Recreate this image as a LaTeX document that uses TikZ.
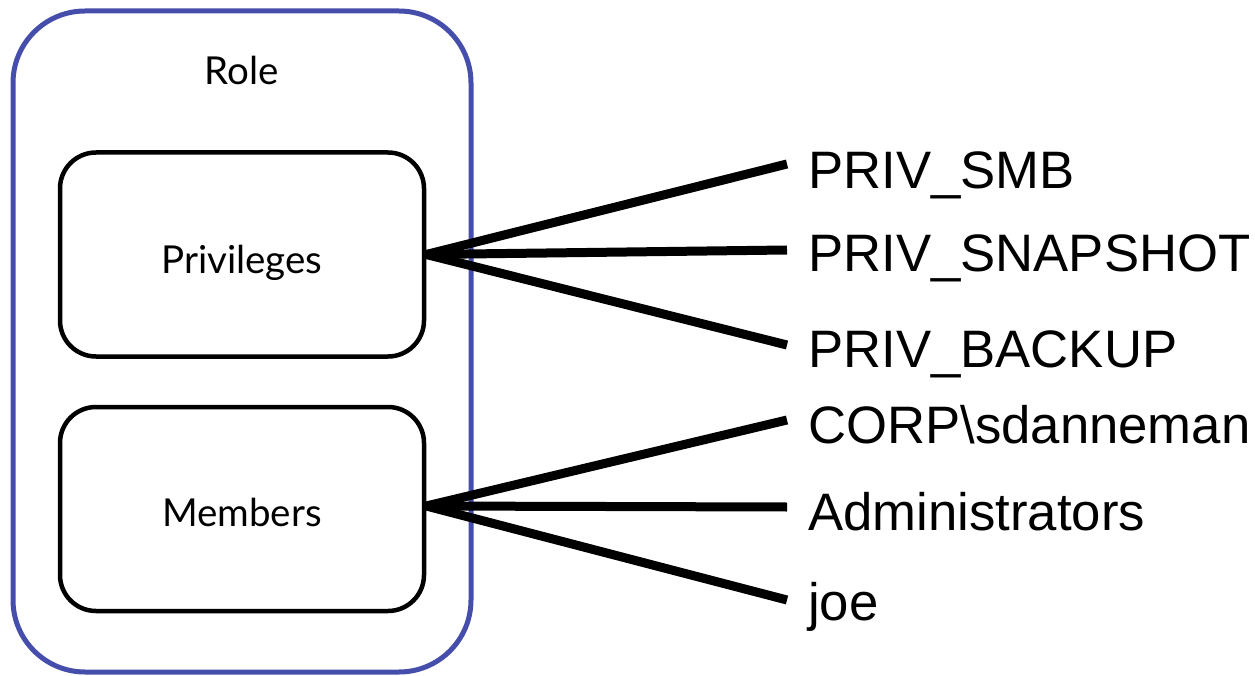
\documentclass[tikz,border=0pt]{standalone}
\usepackage{fontspec}
\setmainfont{Liberation Sans}
\newfontfamily\gillfont{Lato}
\definecolor{roleblue}{RGB}{70,78,172}
\begin{document}
\begin{tikzpicture}[x=1pt,y=-1pt,
  rolebox/.style={draw=roleblue,line width=5pt,rounded corners=72pt,minimum width=458pt,minimum height=661pt,inner sep=0pt},
  partbox/.style={draw=black,line width=4.5pt,rounded corners=36pt,minimum width=364pt,minimum height=204pt,inner sep=0pt},
  leftlabel/.style={font=\gillfont\fontsize{38.5}{44}\selectfont,inner sep=0pt},
  item/.style={font=\fontsize{52.7}{60}\selectfont,anchor=base west,inner sep=0pt},
  link/.style={line width=9pt}]
\useasboundingbox (0,0) rectangle (1255,676);
\node[rolebox] (role) at (242,341.5) {};
\node[partbox] (priv) at (242,254.5) {};
\node[partbox] (memb) at (242,509) {};
\node[leftlabel,anchor=base] (rolelbl) at (242,85) {Role};
\node[leftlabel,anchor=base] (privlbl) at (242,273) {Privileges};
\node[leftlabel,anchor=base] (memblbl) at (242,526) {Members};
\node[item] (smb) at (808,189) {PRIV\_SMB};
\node[item] (snap) at (808,272) {PRIV\_SNAPSHOT};
\node[item] (backup) at (808,367) {PRIV\_BACKUP};
\node[item] (corp) at (808,443) {CORP\textbackslash sdanneman};
\node[item] (admin) at (808,530) {Administrators};
\node[item] (joe) at (808,620) {joe};
\coordinate (e1) at (787,164);
\coordinate (e2) at (787,250);
\coordinate (e3) at (787,345);
\coordinate (e4) at (787,420);
\coordinate (e5) at (787,507);
\coordinate (e6) at (787,600);
\draw[link] (priv.east) -- (e1);
\draw[link] (priv.east) -- (e2);
\draw[link] (priv.east) -- (e3);
\draw[link] ([yshift=3pt]memb.east) -- (e4);
\draw[link] ([yshift=3pt]memb.east) -- (e5);
\draw[link] ([yshift=3pt]memb.east) -- (e6);
\end{tikzpicture}
\end{document}
